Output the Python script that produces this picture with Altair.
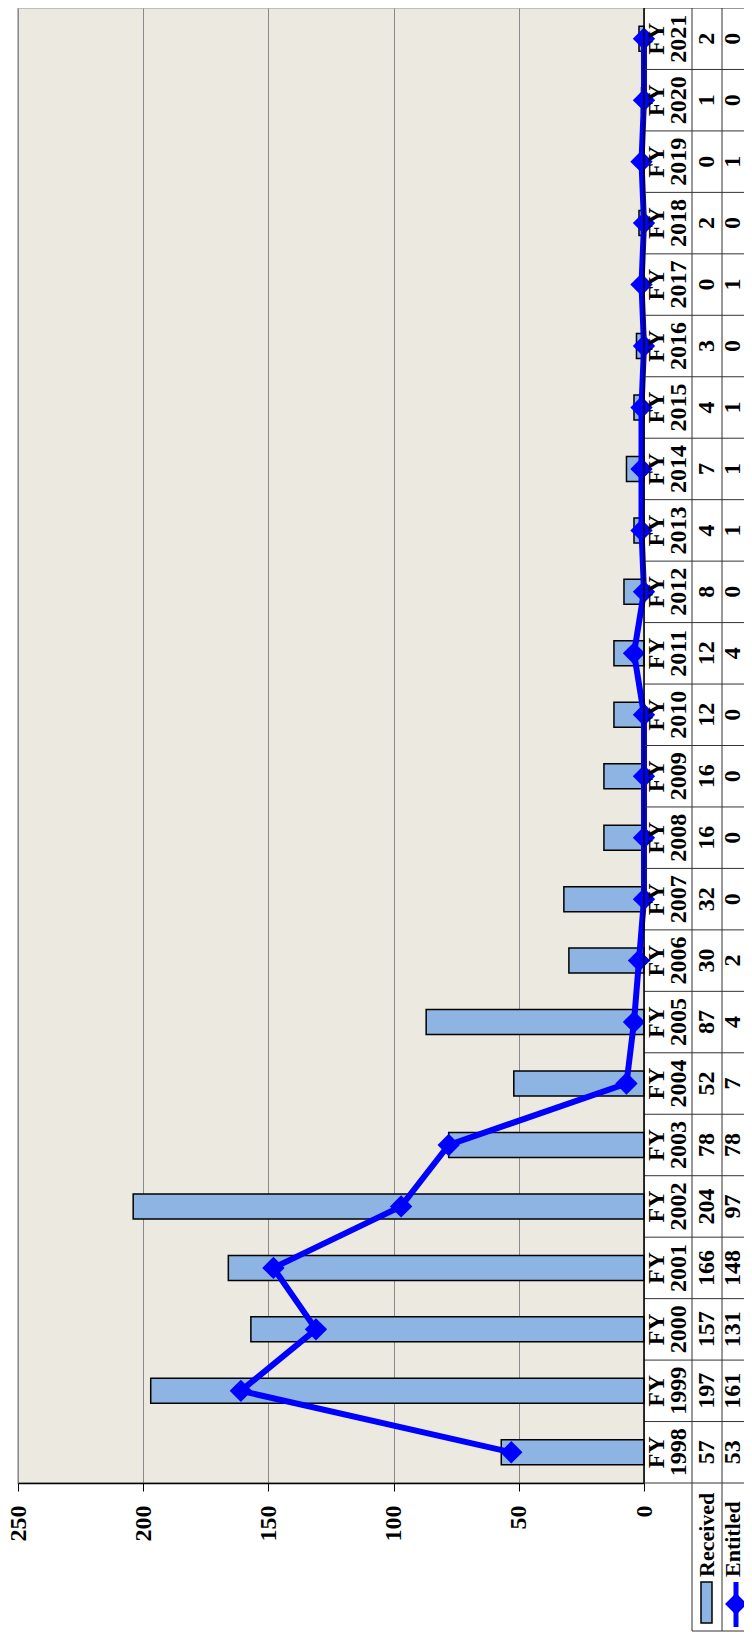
import altair as alt
import pandas as pd

# ---- data ----
years = ["1998", "1999", "2000", "2001", "2002", "2003", "2004", "2005", "2006",
         "2007", "2008", "2009", "2010", "2011", "2012", "2013", "2014", "2015",
         "2016", "2017", "2018", "2019", "2020", "2021"]
received = [57, 197, 157, 166, 204, 78, 52, 87, 30, 32, 16, 16, 12, 12, 8, 4, 7, 4,
            3, 0, 2, 0, 1, 2]
entitled = [53, 161, 131, 148, 97, 78, 7, 4, 2, 0, 0, 0, 0, 4, 0, 1, 1, 1,
            0, 1, 0, 1, 0, 0]
value_ticks = [0, 50, 100, 150, 200, 250]
series_names = ["Received", "Entitled"]

df = pd.DataFrame({
    "year": years,
    "label": ["FY\n" + y for y in years],
    "received": received,
    "entitled": entitled,
    "idx": list(range(len(years))),
})
one = pd.DataFrame({"k": [0]})
leg = pd.DataFrame({"name": series_names})

# ---- layout ----
W, H = 626, 1475
FONT = "Liberation Serif"
BAR = "#8DB4E2"
BLUE = "#0000FF"
GRID = "#333333"
C1, C2, C3 = W + 48, W + 78, W + 100   # table column edges
LB = H + 148                            # legend box bottom

order = years[::-1]
yscale = alt.Scale(paddingInner=0, paddingOuter=0)
yenc = alt.Y("year:N", sort=order, scale=yscale, axis=None)
xscale = alt.Scale(domain=[0, 250], reverse=True, nice=False)
xaxis = alt.Axis(values=value_ticks, orient="bottom", labelAngle=270,
                 labelAlign="right", labelBaseline="middle",
                 labelFont=FONT, labelFontWeight="bold", labelFontSize=24,
                 labelColor="black", labelPadding=14, tickSize=8,
                 tickColor="black", tickWidth=1, domainColor="black",
                 domainWidth=1.5, grid=True, gridColor="#8a8a8a", gridWidth=1,
                 title=None)

bars = alt.Chart(df).mark_bar(size=25, color=BAR, stroke="black", strokeWidth=1.5).encode(
    x=alt.X("received:Q", scale=xscale, axis=xaxis),
    y=yenc,
)
line = alt.Chart(df).mark_line(color=BLUE, strokeWidth=6).encode(
    x=alt.X("entitled:Q", scale=xscale),
    y=yenc,
    order="idx:Q",
)
pts = alt.Chart(df).mark_point(shape="diamond", filled=True, size=500, color=BLUE, opacity=1).encode(
    x=alt.X("entitled:Q", scale=xscale),
    y=yenc,
)

# data table
row_lines = alt.Chart(df).mark_rule(color=GRID, strokeWidth=1).encode(
    y=alt.Y("year:N", sort=order, scale=yscale, axis=None, bandPosition=0),
    x=alt.value(W), x2=alt.value(C3),
)
txt_kw = dict(font=FONT, fontWeight="bold", fontSize=24, angle=270,
              align="center", baseline="middle", color="black")
cat_txt = alt.Chart(df).mark_text(lineBreak="\n", lineHeight=22, **txt_kw).encode(
    y=yenc, x=alt.value(W + 13), text="label:N")
rec_txt = alt.Chart(df).mark_text(**txt_kw).encode(
    y=yenc, x=alt.value(W + 63), text="received:Q")
ent_txt = alt.Chart(df).mark_text(**txt_kw).encode(
    y=yenc, x=alt.value(W + 89), text="entitled:Q")

def rule(x, x2, y, y2, color=GRID, w=1):
    return alt.Chart(one).mark_rule(color=color, strokeWidth=w).encode(
        x=alt.value(x), x2=alt.value(x2), y=alt.value(y), y2=alt.value(y2))

frame = [
    rule(W, W, 0, H, "black", 1.5),
    rule(C1, C1, 0, LB),
    rule(C2, C2, 0, LB),
    rule(W, C3, H, H),
    rule(C1, C3, LB, LB),
]

# legend (inside the table, under the rows)
leg_rec_txt = alt.Chart(leg).transform_filter(alt.datum.name == "Received").mark_text(
    font=FONT, fontWeight="bold", fontSize=22, angle=270, align="left",
    baseline="middle", color="black").encode(
    x=alt.value(W + 63), y=alt.value(H + 94), text="name:N")
leg_ent_txt = alt.Chart(leg).transform_filter(alt.datum.name == "Entitled").mark_text(
    font=FONT, fontWeight="bold", fontSize=22, angle=270, align="left",
    baseline="middle", color="black").encode(
    x=alt.value(W + 89), y=alt.value(H + 94), text="name:N")
leg_sw = alt.Chart(one).mark_rect(color=BAR, stroke="black", strokeWidth=1.5).encode(
    x=alt.value(W + 57), x2=alt.value(W + 68), y=alt.value(H + 99), y2=alt.value(H + 140))
leg_line = rule(W + 92, W + 92, H + 99, H + 144, BLUE, 5)
leg_pt = alt.Chart(one).mark_point(shape="diamond", filled=True, size=480, color=BLUE, opacity=1).encode(
    x=alt.value(W + 92), y=alt.value(H + 121))

chart = alt.layer(
    bars, line, pts, row_lines, cat_txt, rec_txt, ent_txt, *frame,
    leg_rec_txt, leg_ent_txt, leg_sw, leg_line, leg_pt,
).properties(
    width=W, height=H,
    padding={"left": 10, "top": 0, "right": 100, "bottom": 152},
    autosize=alt.AutoSizeParams(type="none"),
).configure_view(fill="#ECEAE0", stroke="#BEBEBE", strokeWidth=2)

chart.save("out.html", embed_options={"renderer": "svg", "actions": False})
